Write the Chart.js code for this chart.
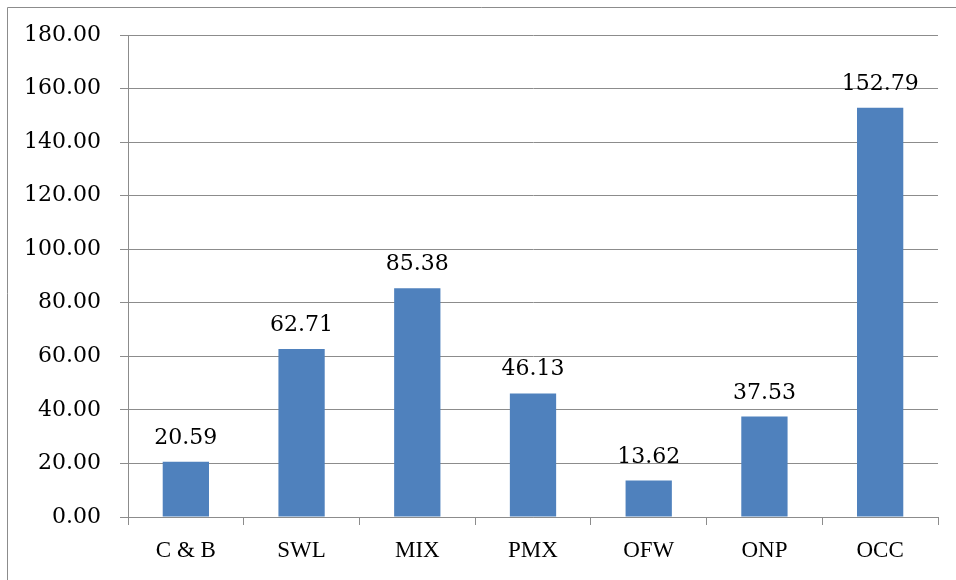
<!DOCTYPE html>
<html><head><meta charset="utf-8">
<script src="https://cdn.jsdelivr.net/npm/chart.js@4/dist/chart.umd.min.js"></script>
<style>html,body{margin:0;padding:0;background:#fff}canvas{display:block}</style>
</head><body>
<canvas id="c" width="956" height="580"></canvas>
<script>
const categories = ['C & B', 'SWL', 'MIX', 'PMX', 'OFW', 'ONP', 'OCC'];
const values = [20.59, 62.71, 85.38, 46.13, 13.62, 37.53, 152.79];
const yMin = 0, yMax = 180, yStep = 20;

const framePlugin = {
  id: 'frame',
  beforeDraw(chart) {
    const ctx = chart.ctx;
    ctx.save();
    ctx.strokeStyle = '#8c8c8c';
    ctx.lineWidth = 1;
    ctx.beginPath();
    ctx.moveTo(7.5, 580);
    ctx.lineTo(7.5, 7.5);
    ctx.lineTo(956, 7.5);
    ctx.stroke();
    ctx.restore();
  }
};
const labelPlugin = {
  id: 'vlabels',
  afterDatasetsDraw(chart) {
    const ctx = chart.ctx;
    const meta = chart.getDatasetMeta(0);
    ctx.save();
    ctx.font = '22px "DejaVu Serif"';
    ctx.fillStyle = '#000';
    ctx.textAlign = 'center';
    ctx.textBaseline = 'alphabetic';
    meta.data.forEach((bar, i) => {
      ctx.fillText(values[i].toFixed(2), bar.x, bar.y - 18);
    });
    ctx.restore();
  }
};

new Chart(document.getElementById('c'), {
  type: 'bar',
  data: {
    labels: categories,
    datasets: [{
      data: values,
      backgroundColor: '#4F81BD',
      borderWidth: 0,
      barPercentage: 0.4,
      categoryPercentage: 1.0
    }]
  },
  options: {
    responsive: false,
    animation: false,
    devicePixelRatio: 1,
    layout: { padding: { top: 35, right: 18, bottom: 0, left: 0 } },
    plugins: { legend: { display: false }, tooltip: { enabled: false } },
    scales: {
      x: {
        afterFit(s) { s.height = 63; },
        grid: { display: true, offset: true, drawOnChartArea: false, color: '#8c8c8c', tickLength: 8 },
        border: { color: '#8c8c8c' },
        ticks: { color: '#000', font: { family: '"Liberation Serif"', size: 23 }, padding: 12, maxRotation: 0 }
      },
      y: {
        min: yMin, max: yMax,
        afterFit(s) { s.width = 128; },
        grid: { color: '#8c8c8c', tickLength: 8 },
        border: { color: '#8c8c8c' },
        ticks: {
          stepSize: yStep,
          color: '#000',
          font: { family: '"DejaVu Serif"', size: 22 },
          padding: 19,
          callback: v => Number(v).toFixed(2)
        }
      }
    }
  },
  plugins: [framePlugin, labelPlugin]
});
</script>
</body></html>
